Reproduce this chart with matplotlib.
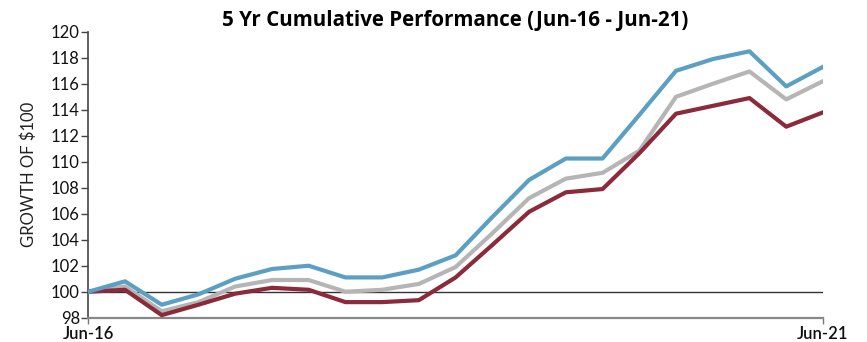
import matplotlib
matplotlib.use("Agg")
import matplotlib.pyplot as plt

plt.rcParams['font.family'] = ['Lato', 'DejaVu Sans']

# Quarterly growth of $100, Jun-16 through Jun-21
quarters = list(range(21))
x_tick_labels = ["Jun-16", "Jun-21"]
series_blue = [100.0, 100.8, 99.0, 99.8, 101.0, 101.75, 102.0, 101.1, 101.1, 101.7,
               102.8, 105.75, 108.6, 110.25, 110.25, 113.6, 117.0, 117.9, 118.5, 115.8, 117.3]
series_gray = [100.0, 100.4, 98.5, 99.2, 100.4, 100.9, 100.9, 100.0, 100.15, 100.6,
               101.9, 104.5, 107.2, 108.7, 109.15, 110.85, 115.0, 116.0, 116.95, 114.8, 116.2]
series_red = [100.0, 100.15, 98.2, 99.0, 99.85, 100.3, 100.15, 99.2, 99.2, 99.35,
              101.1, 103.6, 106.15, 107.65, 107.9, 110.65, 113.7, 114.3, 114.9, 112.7, 113.8]
y_ticks = list(range(98, 121, 2))

fig = plt.figure(figsize=(8.67, 3.42), dpi=100)
ax = fig.add_axes([0.1018, 0.071, 0.8474, 0.836])

ax.axhline(100, color="#333333", lw=1.0, zorder=1)
ax.plot(quarters, series_red, color="#8b2a3a", lw=3.0, zorder=3)
ax.plot(quarters, series_gray, color="#b5b5b5", lw=3.0, zorder=2)
ax.plot(quarters, series_blue, color="#5b9fc3", lw=3.0, zorder=4)

ax.set_xlim(0, 20)
ax.set_ylim(98, 120)
ax.set_yticks(y_ticks)
ax.set_yticklabels([str(v) for v in y_ticks], fontsize=12, color="#111111")
ax.set_xticks([0, 20])
ax.set_xticklabels(x_tick_labels, fontsize=12, color="#111111", fontweight="semibold")
ax.tick_params(axis="y", length=5, width=1, color="#444444", pad=1)
ax.tick_params(axis="x", length=4, width=1, color="#777777", pad=2)

for side in ("top", "right"):
    ax.spines[side].set_visible(False)
ax.spines["left"].set_color("#444444")
ax.spines["left"].set_linewidth(1.2)
ax.spines["bottom"].set_color("#888888")
ax.spines["bottom"].set_linewidth(1.6)

ax.set_ylabel("GROWTH OF $100", fontsize=12, labelpad=10, color="#222222")
ax.set_title("5 Yr Cumulative Performance (Jun-16 - Jun-21)", fontsize=14.8,
             fontweight="bold", family=["Open Sans", "DejaVu Sans"], pad=4)

fig.savefig("out.png", dpi=100)
